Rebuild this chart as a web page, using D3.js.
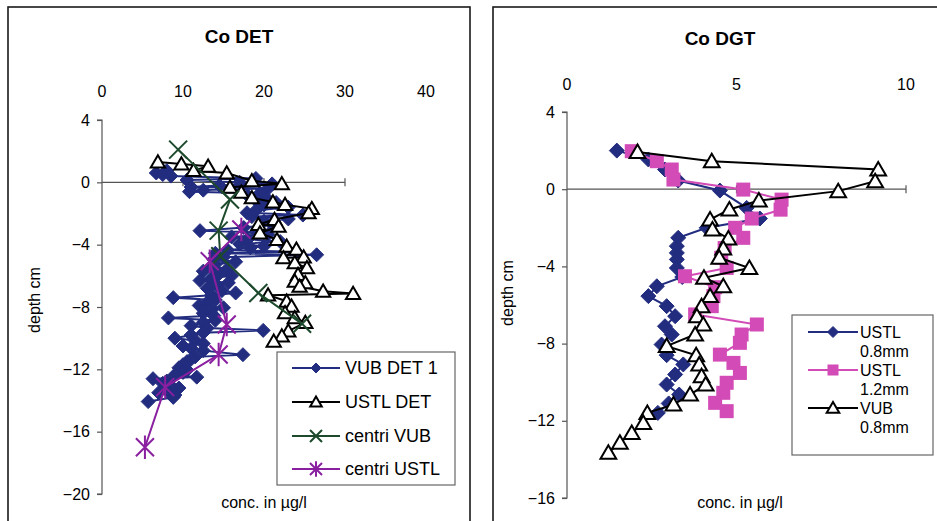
<!DOCTYPE html>
<html>
<head>
<meta charset="utf-8">
<script src="https://cdn.jsdelivr.net/npm/d3@7"></script>
<style>
  body { margin: 0; background: #fff; }
  svg { display: block; }
  text { font-family: Arial, "Liberation Sans", sans-serif; fill: #000; }
</style>
</head>
<body>
<svg id="chart" width="937" height="521"></svg>
<script>
// ---- Co DET panel: [depth cm, concentration µg/l] ----
const vubDet1 = [
  [0.75, 8.0], [0.6, 6.7], [0.5, 7.5], [0.4, 8.5], [0.25, 19.0], [0.15, 10.5], [0.0, 17.0],
  [-0.1, 21.0], [-0.2, 14.5], [-0.3, 11.0], [-0.4, 20.5], [-0.5, 12.5], [-0.6, 10.8], [-0.7, 19.5],
  [-0.85, 18.0], [-1.0, 20.3], [-1.15, 19.0], [-1.3, 21.5], [-1.45, 20.0], [-1.6, 23.0], [-1.8, 19.0],
  [-1.95, 17.9], [-2.1, 24.8], [-2.2, 18.5], [-2.35, 23.0], [-2.5, 20.0], [-2.7, 21.0], [-2.9, 17.5],
  [-3.1, 12.1], [-3.2, 19.0], [-3.35, 20.5], [-3.5, 16.0], [-3.65, 18.0], [-3.8, 22.0], [-3.95, 17.0],
  [-4.1, 20.0], [-4.2, 18.3], [-4.35, 15.5], [-4.45, 24.0], [-4.55, 14.0], [-4.65, 26.5], [-4.8, 15.0],
  [-4.95, 13.8], [-5.1, 16.5], [-5.25, 14.0], [-5.4, 13.5], [-5.55, 15.5], [-5.7, 12.5], [-5.85, 14.5],
  [-6.0, 16.0], [-6.15, 13.5], [-6.3, 12.1], [-6.45, 15.6], [-6.6, 14.2], [-6.8, 13.0], [-6.95, 14.8],
  [-7.1, 16.5], [-7.25, 13.5], [-7.4, 8.8], [-7.55, 14.0], [-7.7, 13.0], [-7.9, 12.0], [-8.05, 15.0],
  [-8.2, 13.5], [-8.4, 12.5], [-8.55, 13.8], [-8.7, 8.2], [-8.85, 14.0], [-9.0, 12.5], [-9.2, 11.0],
  [-9.35, 13.0], [-9.5, 19.9], [-9.65, 12.5], [-9.8, 11.0], [-10.0, 9.0], [-10.15, 11.5], [-10.35, 12.5],
  [-10.5, 10.0], [-10.65, 11.0], [-10.8, 12.5], [-11.06, 17.4], [-11.2, 11.5], [-11.35, 11.0],
  [-11.5, 10.5], [-11.7, 10.0], [-11.9, 9.5], [-12.05, 10.5], [-12.2, 10.0], [-12.35, 9.0],
  [-12.5, 11.7], [-12.6, 6.3], [-12.75, 8.0], [-12.9, 7.5], [-13.05, 8.5], [-13.2, 9.5],
  [-13.35, 8.0], [-13.5, 7.0], [-13.65, 9.0], [-13.8, 8.8], [-14.07, 5.7]
];
const ustlDet = [
  [1.3, 6.9], [1.17, 9.8], [1.03, 13.1], [0.75, 11.3], [0.6, 15.4], [0.1, 18.5],
  [-0.09, 22.2], [-0.32, 15.8], [-0.64, 17.2], [-1.0, 18.5], [-1.26, 21.1], [-1.43, 22.6],
  [-1.69, 25.9], [-1.96, 25.5], [-2.39, 21.3], [-2.71, 19.3], [-2.82, 21.8], [-3.25, 19.5],
  [-3.68, 21.6], [-4.1, 22.8], [-4.3, 24.0], [-4.85, 22.4], [-4.8, 24.9], [-5.17, 23.8],
  [-5.49, 25.3], [-5.92, 24.2], [-6.35, 23.8], [-6.45, 25.1], [-6.67, 24.4], [-6.99, 27.3],
  [-7.14, 31.0], [-7.24, 20.5], [-7.63, 22.8], [-7.95, 23.4], [-8.37, 22.6], [-8.7, 23.8],
  [-9.0, 25.1], [-9.55, 23.0], [-9.87, 22.2], [-10.2, 21.2]
];
const centriVub = [[2.1, 9.4], [-1.1, 15.8], [-3.1, 14.4], [-4.74, 14.6], [-7.1, 19.3], [-9.08, 24.7]];
const centriUstl = [[-3.03, 17.2], [-5.06, 13.3], [-9.12, 15.4], [-11.05, 14.4], [-13.14, 7.8], [-17.0, 5.3]];

// ---- Co DGT panel: [depth cm, concentration µg/l] ----
const dgtUstl08 = [
  [2.0, 1.47], [1.54, 2.4], [1.02, 2.89], [0.45, 3.28], [-0.07, 4.51], [-0.97, 5.3],
  [-1.52, 5.69], [-2.0, 4.12], [-2.52, 3.28], [-2.95, 3.24], [-3.3, 3.24], [-3.64, 3.24],
  [-4.08, 3.24], [-4.55, 3.4], [-5.03, 2.65], [-5.54, 2.4], [-6.06, 2.94], [-6.58, 3.19],
  [-7.1, 2.89], [-7.53, 3.09], [-8.05, 2.79], [-8.6, 2.94], [-9.08, 3.43], [-9.6, 3.19],
  [-10.12, 2.94], [-10.64, 3.31], [-11.1, 3.0], [-11.59, 2.68]
];
const dgtUstl12 = [
  [1.97, 1.91], [1.45, 2.65], [1.02, 3.09], [0.5, 3.14], [-0.02, 5.2], [-0.54, 6.33],
  [-1.06, 6.3], [-1.52, 5.45], [-2.0, 4.96], [-2.52, 5.2], [-3.05, 4.65], [-3.55, 4.55],
  [-4.08, 4.71], [-4.51, 3.48], [-5.08, 4.37], [-5.54, 4.32], [-6.06, 4.27], [-6.49, 3.78],
  [-7.01, 5.6], [-7.53, 5.15], [-7.96, 5.1], [-8.57, 4.51], [-9.0, 4.91], [-9.52, 5.1],
  [-10.03, 4.71], [-10.55, 4.61], [-11.07, 4.37], [-11.5, 4.71]
];
const dgtVub08 = [
  [1.93, 2.08], [1.45, 4.27], [1.02, 9.18], [0.41, 9.09], [-0.1, 8.0], [-0.59, 5.66],
  [-1.05, 4.79], [-1.57, 4.22], [-2.09, 4.29], [-2.55, 4.76], [-3.07, 4.61], [-3.55, 4.49],
  [-4.08, 5.38], [-4.59, 4.04], [-5.03, 4.61], [-5.54, 4.22], [-6.06, 3.97], [-6.58, 3.83],
  [-7.01, 4.02], [-7.53, 3.78], [-8.13, 2.94], [-8.6, 3.81], [-9.08, 3.9], [-9.69, 3.97],
  [-10.12, 4.09], [-10.64, 3.63], [-11.16, 3.14], [-11.59, 2.37], [-12.11, 2.25],
  [-12.63, 1.91], [-13.14, 1.56], [-13.66, 1.22]
];

// ---- tick labels ----
const detTicksX = [0, 10, 20, 30, 40];
const detTicksY = [4, 0, -4, -8, -12, -16, -20];
const dgtTicksX = [0, 5, 10];
const dgtTicksY = [4, 0, -4, -8, -12, -16];

const svg = d3.select("#chart");
const AXIS = "#555";

// marker painters
const markers = {
  diamond(g, r, color) {
    g.append("path").attr("d", `M0,${-r}L${r},0L0,${r}L${-r},0Z`).attr("fill", color).attr("stroke", color).attr("stroke-width", 1);
  },
  triangle(g, r) {
    g.append("path").attr("d", `M0,${-r}L${r * 1.05},${r * 0.8}L${-r * 1.05},${r * 0.8}Z`)
      .attr("fill", "#fff").attr("stroke", "#000").attr("stroke-width", 2).attr("stroke-linejoin", "miter");
  },
  square(g, r, color) {
    g.append("rect").attr("x", -r).attr("y", -r).attr("width", 2 * r).attr("height", 2 * r).attr("fill", color);
  },
  cross(g, r, color) {
    g.append("path").attr("d", `M${-r},${-r}L${r},${r}M${-r},${r}L${r},${-r}`).attr("stroke", color).attr("stroke-width", 2);
  },
  star(g, r, color) {
    g.append("path").attr("d", `M${-r},${-r}L${r},${r}M${-r},${r}L${r},${-r}M0,${-r * 1.3}L0,${r * 1.3}`)
      .attr("stroke", color).attr("stroke-width", 2);
  }
};

function drawPanel(cfg) {
  const x = d3.scaleLinear().domain(cfg.xDomain).range(cfg.xRange);
  const y = d3.scaleLinear().domain(cfg.yDomain).range(cfg.yRange);
  const g = svg.append("g");

  // panel frame
  g.append("rect").attr("x", cfg.frame[0]).attr("y", cfg.frame[1]).attr("width", cfg.frame[2]).attr("height", cfg.frame[3])
    .attr("fill", "#fff").attr("stroke", "#1a1a1a").attr("stroke-width", 1.6);

  // title
  g.append("text").attr("x", cfg.titlePos[0]).attr("y", cfg.titlePos[1]).attr("text-anchor", "middle")
    .attr("font-size", 19).attr("font-weight", "bold").text(cfg.title);

  // vertical (depth) axis
  const yAxis = d3.axisLeft(y).tickValues(cfg.yTicks).tickSize(5).tickPadding(7).tickFormat(d3.format("d"));
  const ya = g.append("g").attr("transform", `translate(${x(0)},0)`).call(yAxis);
  ya.select(".domain").attr("stroke", AXIS).attr("stroke-width", 1.2).attr("d", `M-5,${y(cfg.yDomain[1])}H0V${y(cfg.yDomain[0])}H-5`);
  ya.selectAll(".tick line").attr("stroke", AXIS).attr("stroke-width", 1.2);
  ya.selectAll(".tick text").attr("font-size", 16).attr("fill", "#000").style("font-family", "Arial, 'Liberation Sans', sans-serif");

  // horizontal line at depth 0 with cross ticks
  const x0 = x(cfg.xDomain[0]), x1 = x(cfg.xLineMax);
  g.append("line").attr("x1", x0).attr("x2", x1).attr("y1", y(0)).attr("y2", y(0)).attr("stroke", AXIS).attr("stroke-width", 1.2);
  g.selectAll(".xt").data(cfg.xTicks.filter(v => v > 0 && v <= cfg.xLineMax)).join("line")
    .attr("x1", d => x(d)).attr("x2", d => x(d)).attr("y1", y(0) - 4).attr("y2", y(0) + 4)
    .attr("stroke", AXIS).attr("stroke-width", 1.2);

  // concentration labels along the top
  g.selectAll(".xl").data(cfg.xTicks).join("text")
    .attr("x", d => x(d)).attr("y", cfg.xLabelY).attr("text-anchor", "middle").attr("font-size", 16).text(d => d);

  // axis titles
  g.append("text").attr("transform", `translate(${cfg.yTitlePos[0]},${cfg.yTitlePos[1]}) rotate(-90)`)
    .attr("text-anchor", "middle").attr("font-size", 16).text("depth cm");
  g.append("text").attr("x", cfg.xTitlePos[0]).attr("y", cfg.xTitlePos[1]).attr("text-anchor", "middle")
    .attr("font-size", 16).text("conc. in µg/l");

  // series
  const line = d3.line().x(d => x(d[1])).y(d => y(d[0]));
  cfg.series.forEach(s => {
    g.append("path").attr("d", line(s.data)).attr("fill", "none").attr("stroke", s.line).attr("stroke-width", 2);
    s.data.forEach(d => {
      const m = g.append("g").attr("transform", `translate(${x(d[1])},${y(d[0])})`);
      markers[s.marker](m, s.size, s.color);
    });
  });

  // legend
  const L = cfg.legend;
  const lg = g.append("g");
  lg.append("rect").attr("x", L.box[0]).attr("y", L.box[1]).attr("width", L.box[2]).attr("height", L.box[3])
    .attr("fill", "#fff").attr("stroke", "#666").attr("stroke-width", 1.2);
  cfg.series.forEach((s, i) => {
    const cy = L.rows[i];
    lg.append("line").attr("x1", L.lineX[0]).attr("x2", L.lineX[1]).attr("y1", cy).attr("y2", cy)
      .attr("stroke", s.line).attr("stroke-width", 1.8);
    const m = lg.append("g").attr("transform", `translate(${(L.lineX[0] + L.lineX[1]) / 2},${cy})`);
    markers[s.marker](m, s.legendSize, s.color);
    s.label.forEach((part, k) => {
      lg.append("text").attr("x", L.textX).attr("y", cy + k * L.lineGap).attr("dy", "0.36em")
        .attr("font-size", L.fontSize).text(part);
    });
  });
}

drawPanel({
  title: "Co DET", titlePos: [239, 43],
  frame: [8, 7, 462, 530],
  xDomain: [0, 40], xRange: [102, 426], xLineMax: 30, xTicks: detTicksX, xLabelY: 97,
  yDomain: [-20, 4], yRange: [494, 120], yTicks: detTicksY,
  yTitlePos: [40, 300], xTitlePos: [264, 508],
  series: [
    { data: vubDet1, marker: "diamond", size: 7, legendSize: 5, color: "#222d80", line: "#222d80", label: ["VUB DET 1"] },
    { data: ustlDet, marker: "triangle", size: 6.8, legendSize: 5.5, color: "#000", line: "#000", label: ["USTL DET"] },
    { data: centriVub, marker: "cross", size: 9, legendSize: 6, color: "#1d4a2c", line: "#1d4a2c", label: ["centri VUB"] },
    { data: centriUstl, marker: "star", size: 9, legendSize: 6, color: "#8a1fa0", line: "#8a1fa0", label: ["centri USTL"] }
  ],
  legend: { box: [277, 352, 178, 133], rows: [368, 402, 436, 469], lineX: [292, 340], textX: 345, lineGap: 0, fontSize: 18 }
});

drawPanel({
  title: "Co DGT", titlePos: [720, 45],
  frame: [493, 7, 460, 530],
  xDomain: [0, 10], xRange: [567, 906], xLineMax: 10, xTicks: dgtTicksX, xLabelY: 90,
  yDomain: [-16, 4], yRange: [498, 112], yTicks: dgtTicksY,
  yTitlePos: [513, 293], xTitlePos: [740, 508],
  series: [
    { data: dgtUstl08, marker: "diamond", size: 7.5, legendSize: 5.5, color: "#222d80", line: "#222d80", label: ["USTL", "0.8mm"] },
    { data: dgtUstl12, marker: "square", size: 7, legendSize: 5.5, color: "#d24bb6", line: "#d24bb6", label: ["USTL", "1.2mm"] },
    { data: dgtVub08, marker: "triangle", size: 7.5, legendSize: 6, color: "#000", line: "#000", label: ["VUB", "0.8mm"] }
  ],
  legend: { box: [792, 315, 141, 140], rows: [332, 370, 408], lineX: [808, 858], textX: 860, lineGap: 19, fontSize: 16 }
});
</script>
</body>
</html>
